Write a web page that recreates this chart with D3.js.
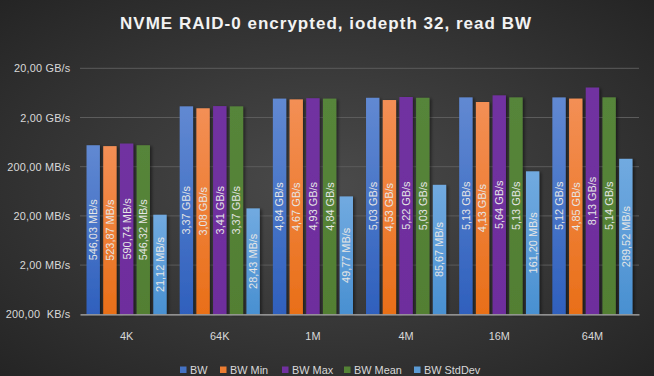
<!DOCTYPE html>
<html><head><meta charset="utf-8">
<script src="https://cdn.jsdelivr.net/npm/d3@7"></script>
<style>html,body{margin:0;padding:0;background:#2e2e2e;}svg{display:block;}</style>
</head><body>
<script>
const categories = ["4K","64K","1M","4M","16M","64M"];
const seriesNames = ["BW","BW Min","BW Max","BW Mean","BW StdDev"];
// values in MB/s
const bw      = [546.03, 3370, 4840, 5030, 5130, 5120];
const bwMin   = [523.87, 3080, 4670, 4530, 4130, 4850];
const bwMax   = [590.74, 3410, 4930, 5220, 5640, 8130];
const bwMean  = [546.32, 3370, 4840, 5030, 5130, 5140];
const bwStd   = [21.12, 28.43, 49.77, 85.67, 161.20, 289.52];
const labelsBW   = ["546,03 MB/s","3,37 GB/s","4,84 GB/s","5,03 GB/s","5,13 GB/s","5,12 GB/s"];
const labelsMin  = ["523,87 MB/s","3,08 GB/s","4,67 GB/s","4,53 GB/s","4,13 GB/s","4,85 GB/s"];
const labelsMax  = ["590,74 MB/s","3,41 GB/s","4,93 GB/s","5,22 GB/s","5,64 GB/s","8,13 GB/s"];
const labelsMean = ["546,32 MB/s","3,37 GB/s","4,84 GB/s","5,03 GB/s","5,13 GB/s","5,14 GB/s"];
const labelsStd  = ["21,12 MB/s","28,43 MB/s","49,77 MB/s","85,67 MB/s","161,20 MB/s","289,52 MB/s"];
const yTicks = [0.2, 2, 20, 200, 2000, 20000];
const yTickLabels = ["200,00  KB/s","2,00 MB/s","20,00 MB/s","200,00 MB/s","2,00 GB/s","20,00 GB/s"];
const title = "NVME RAID-0 encrypted, iodepth 32, read BW";

const series = [bw, bwMin, bwMax, bwMean, bwStd];
const seriesLabels = [labelsBW, labelsMin, labelsMax, labelsMean, labelsStd];
const colorsTop = ["#6189d2","#f38f55","#7131a1","#56853a","#71aae0"];
const colorsBot = ["#2f60bd","#e96f18","#6e2e9d","#527f33","#4990d1"];
const legendColors = ["#4472c4","#ed7d31","#7030a0","#548235","#5b9bd5"];

const W = 654, H = 376;
const svg = d3.select("body").append("svg").attr("width", W).attr("height", H);
const defs = svg.append("defs");
const rg = defs.append("radialGradient").attr("id","bg").attr("cx","50%").attr("cy","50%").attr("r","75%");
rg.append("stop").attr("offset","0%").attr("stop-color","#4b4b4b");
rg.append("stop").attr("offset","100%").attr("stop-color","#222222");
svg.append("rect").attr("width",W).attr("height",H).attr("fill","url(#bg)");

colorsTop.forEach((c,i)=>{
  const g = defs.append("linearGradient").attr("id","g"+i).attr("x1",0).attr("y1",0).attr("x2",0).attr("y2",1);
  g.append("stop").attr("offset","0%").attr("stop-color",c);
  g.append("stop").attr("offset","100%").attr("stop-color",colorsBot[i]);
});
const f = defs.append("filter").attr("id","sh").attr("x","-20%").attr("y","-5%").attr("width","160%").attr("height","120%");
f.append("feDropShadow").attr("dx",2).attr("dy",1).attr("stdDeviation",1.5).attr("flood-color","#000").attr("flood-opacity",0.45);

const x0 = 80, x1 = 639, yTop = 68.3, yBot = 314.3;
const y = d3.scaleLog().domain([0.2, 20000]).range([yBot, yTop]);
const x = d3.scaleBand().domain(categories).range([x0, x1]).paddingInner(0.14).paddingOuter(0.07);
const xs = d3.scaleBand().domain(d3.range(series.length)).range([0, x.bandwidth()]).paddingInner(0.2);

const font = "'Liberation Sans', Arial, sans-serif";
const fs = "10.9px";

// grid
svg.append("g").selectAll("line").data(yTicks.slice(1)).join("line")
  .attr("x1",x0).attr("x2",x1).attr("y1",d=>y(d)).attr("y2",d=>y(d))
  .attr("stroke","#5c5c5c").attr("stroke-width",1);

// y axis
const yAxis = d3.axisLeft(y).tickValues(yTicks).tickFormat((d,i)=>yTickLabels[i]).tickSize(0).tickPadding(9.5);
const ya = svg.append("g").attr("transform",`translate(${x0},0)`).call(yAxis);
ya.select(".domain").remove();
ya.selectAll("text").attr("fill","#d9d9d9").style("font-family",font).style("font-size",fs).style("letter-spacing","0.2px").style("white-space","pre");

// bars
const gBars = svg.append("g");
series.forEach((vals, si)=>{
  const gs = gBars.append("g");
  gs.selectAll("rect").data(vals).join("rect")
    .attr("x",(d,i)=>x(categories[i])+xs(si))
    .attr("width",xs.bandwidth())
    .attr("y",d=>y(d))
    .attr("height",d=>yBot-y(d))
    .attr("fill",`url(#g${si})`)
    .attr("filter","url(#sh)");
});
// labels
series.forEach((vals, si)=>{
  svg.append("g").selectAll("text").data(vals).join("text")
    .attr("transform",(d,i)=>{
      const cx = x(categories[i])+xs(si)+xs.bandwidth()/2;
      const cy = (y(d)+yBot)/2;
      return `translate(${cx},${cy}) rotate(-90)`;
    })
    .attr("text-anchor","middle").attr("dy","0.36em")
    .attr("fill","#e6e6e6").style("font-family",font).style("font-size",fs)
    .text((d,i)=>seriesLabels[si][i]);
});

// baseline / x axis
const xAxis = d3.axisBottom(x).tickSize(0).tickPadding(18);
const xa = svg.append("g").attr("transform",`translate(0,${yBot})`).call(xAxis);
xa.select(".domain").attr("stroke","#b0b0b0").attr("stroke-width",1.3);
xa.selectAll("text").attr("fill","#d9d9d9").style("font-family",font).style("font-size",fs);

// title
svg.append("text").attr("x",120).attr("y",28.5).attr("text-anchor","start")
  .attr("textLength",411).attr("lengthAdjust","spacing")
  .attr("fill","#f2f2f2").style("font-family",font).style("font-weight","bold").style("font-size","17px")
  .text(title);

// legend
const legX = [180, 220, 282, 344, 414];
const lg = svg.append("g");
seriesNames.forEach((n,i)=>{
  lg.append("rect").attr("x",legX[i]).attr("y",366.5).attr("width",6.5).attr("height",6.5).attr("fill",legendColors[i]);
  lg.append("text").attr("x",legX[i]+10).attr("y",370).attr("dy","0.35em")
    .attr("fill","#d9d9d9").style("font-family",font).style("font-size",fs).text(n);
});
</script>
</body></html>
